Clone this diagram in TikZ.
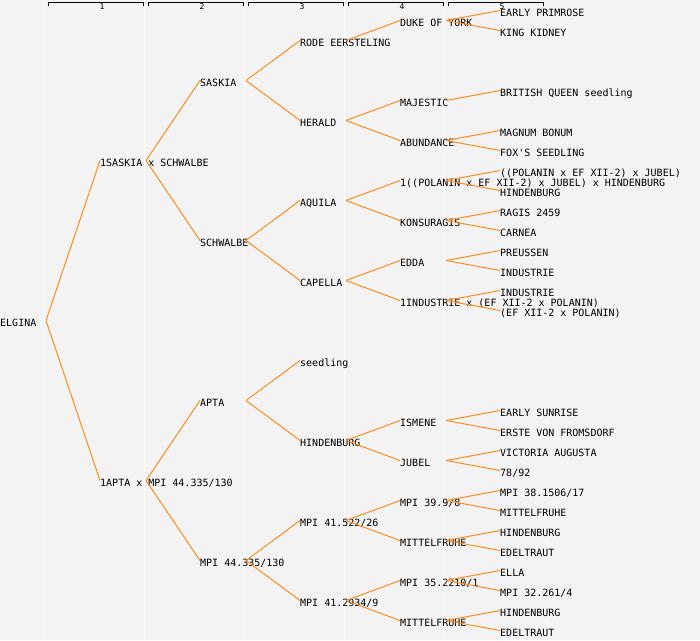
\documentclass[tikz,border=0pt]{standalone}
\usepackage{fontspec}
\setmonofont{DejaVu Sans Mono}
\definecolor{pedbg}{HTML}{F3F3F3}
\definecolor{pedline}{HTML}{FF8C1A}
\tikzset{
  cv/.style={anchor=west,inner sep=0pt,text height=11pt,text depth=0pt,font=\ttfamily\fontsize{10}{12}\selectfont},
  link/.style={pedline,line width=1pt},
  gen/.style={line width=1pt}
}
\begin{document}
\begin{tikzpicture}[x=1pt,y=-1pt]
    \useasboundingbox (0,0) rectangle (700,640);
    \fill[pedbg] (0,0) rectangle (700,640);
    % column separators
    \foreach \c in {0,1,2,3,4}
        \draw[white,line width=1pt] (\c*100+44.5,0) -- (\c*100+44.5,640);
    % generation headers
    \foreach \c in {1,...,5} {
        \draw[gen] (\c*100-52,6) -- (\c*100-52,2) -- (\c*100+43,2) -- (\c*100+43,6);
        \node[inner sep=0pt,font=\ttfamily\fontsize{8}{9}\selectfont] (hd\c) at (\c*100+2,6.5) {\c};
    }
    % generation 0
    \node[cv] (elgina) at (0,320.5) {ELGINA};
    % generation 1
    \node[cv] (sasxsch) at (100,160.5) {1SASKIA x SCHWALBE};
    \node[cv] (aptxmpi) at (100,480.5) {1APTA x MPI 44.335/130};
    % generation 2
    \node[cv] (saskia) at (200,80.5) {SASKIA};
    \node[cv] (schwalbe) at (200,240.5) {SCHWALBE};
    \node[cv] (apta) at (200,400.5) {APTA};
    \node[cv] (mpiA) at (200,560.5) {MPI 44.335/130};
    % generation 3
    \node[cv] (rode) at (300,40.5) {RODE EERSTELING};
    \node[cv] (herald) at (300,120.5) {HERALD};
    \node[cv] (aquila) at (300,200.5) {AQUILA};
    \node[cv] (capella) at (300,280.5) {CAPELLA};
    \node[cv] (seedling) at (300,360.5) {seedling};
    \node[cv] (hindA) at (300,440.5) {HINDENBURG};
    \node[cv] (mpiB) at (300,520.5) {MPI 41.522/26};
    \node[cv] (mpiC) at (300,600.5) {MPI 41.2934/9};
    % generation 4
    \node[cv] (duke) at (400,20.5) {DUKE OF YORK};
    \node[cv] (majestic) at (400,100.5) {MAJESTIC};
    \node[cv] (abundance) at (400,140.5) {ABUNDANCE};
    \node[cv] (polxhind) at (400,180.5) {1((POLANIN x EF XII-2) x JUBEL) x HINDENBURG};
    \node[cv] (konsuragis) at (400,220.5) {KONSURAGIS};
    \node[cv] (edda) at (400,260.5) {EDDA};
    \node[cv] (indxpol) at (400,300.5) {1INDUSTRIE x (EF XII-2 x POLANIN)};
    \node[cv] (ismene) at (400,420.5) {ISMENE};
    \node[cv] (jubel) at (400,460.5) {JUBEL};
    \node[cv] (mpiD) at (400,500.5) {MPI 39.9/8};
    \node[cv] (mittA) at (400,540.5) {MITTELFRUHE};
    \node[cv] (mpiE) at (400,580.5) {MPI 35.2210/1};
    \node[cv] (mittB) at (400,620.5) {MITTELFRUHE};
    % generation 5
    \node[cv] (primrose) at (500,10.5) {EARLY PRIMROSE};
    \node[cv] (kidney) at (500,30.5) {KING KIDNEY};
    \node[cv] (queen) at (500,90.5) {BRITISH QUEEN seedling};
    \node[cv] (magnum) at (500,130.5) {MAGNUM BONUM};
    \node[cv] (fox) at (500,150.5) {FOX'S SEEDLING};
    \node[cv] (polxjub) at (500,170.5) {((POLANIN x EF XII-2) x JUBEL)};
    \node[cv] (hindB) at (500,190.5) {HINDENBURG};
    \node[cv] (ragis) at (500,210.5) {RAGIS 2459};
    \node[cv] (carnea) at (500,230.5) {CARNEA};
    \node[cv] (preussen) at (500,250.5) {PREUSSEN};
    \node[cv] (indA) at (500,270.5) {INDUSTRIE};
    \node[cv] (indB) at (500,290.5) {INDUSTRIE};
    \node[cv] (efxpol) at (500,310.5) {(EF XII-2 x POLANIN)};
    \node[cv] (sunrise) at (500,410.5) {EARLY SUNRISE};
    \node[cv] (erste) at (500,430.5) {ERSTE VON FROMSDORF};
    \node[cv] (victoria) at (500,450.5) {VICTORIA AUGUSTA};
    \node[cv] (n7892) at (500,470.5) {78/92};
    \node[cv] (mpiF) at (500,490.5) {MPI 38.1506/17};
    \node[cv] (mittC) at (500,510.5) {MITTELFRUHE};
    \node[cv] (hindC) at (500,530.5) {HINDENBURG};
    \node[cv] (edelA) at (500,550.5) {EDELTRAUT};
    \node[cv] (ella) at (500,570.5) {ELLA};
    \node[cv] (mpiG) at (500,590.5) {MPI 32.261/4};
    \node[cv] (hindD) at (500,610.5) {HINDENBURG};
    \node[cv] (edelB) at (500,630.5) {EDELTRAUT};
    % parent links
    \foreach \p/\k in {elgina/sasxsch,elgina/aptxmpi,
        sasxsch/saskia,sasxsch/schwalbe,aptxmpi/apta,aptxmpi/mpiA,
        saskia/rode,saskia/herald,schwalbe/aquila,schwalbe/capella,
        apta/seedling,apta/hindA,mpiA/mpiB,mpiA/mpiC,
        rode/duke,herald/majestic,herald/abundance,aquila/polxhind,aquila/konsuragis,
        capella/edda,capella/indxpol,hindA/ismene,hindA/jubel,
        mpiB/mpiD,mpiB/mittA,mpiC/mpiE,mpiC/mittB,
        duke/primrose,duke/kidney,majestic/queen,abundance/magnum,abundance/fox,
        polxhind/polxjub,polxhind/hindB,konsuragis/ragis,konsuragis/carnea,
        edda/preussen,edda/indA,indxpol/indB,indxpol/efxpol,
        ismene/sunrise,ismene/erste,jubel/victoria,jubel/n7892,
        mpiD/mpiF,mpiD/mittC,mittA/hindC,mittA/edelA,
        mpiE/ella,mpiE/mpiG,mittB/hindD,mittB/edelB}
        \draw[link] ([xshift=46pt]\p.west) -- (\k.west);
\end{tikzpicture}
\end{document}
